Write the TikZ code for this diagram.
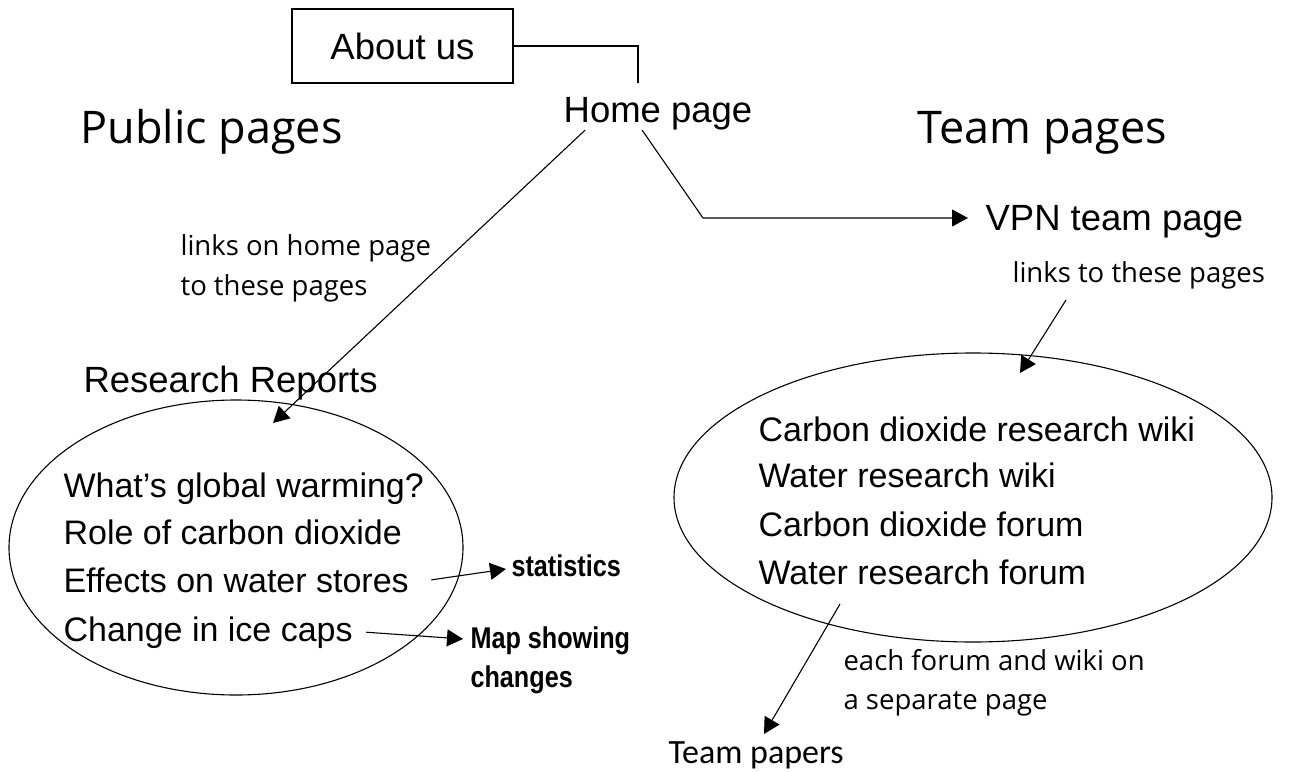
\documentclass[tikz,border=0pt]{standalone}
\usepackage{fontspec}
\setmainfont{Liberation Sans}
\newfontfamily\comicfont{Open Sans}
\newfontfamily\narrowfont{Liberation Sans}[FakeStretch=0.84]
\newfontfamily\calfont{Carlito}
\usetikzlibrary{arrows.meta,shapes.geometric}
\begin{document}
\begin{tikzpicture}[x=1pt,y=-1pt, line width=1.1pt,
  big/.style={font=\fontsize{36.5}{44}\selectfont, inner sep=0pt, anchor=base west},
  item/.style={font=\fontsize{34}{41}\selectfont, inner sep=0pt, anchor=base west},
  titletext/.style={font=\comicfont\fontsize{45}{54}\selectfont, inner sep=0pt, anchor=base west},
  note/.style={font=\comicfont\fontsize{27.5}{40}\selectfont, inner sep=0pt, anchor=base west},
  boldnote/.style={font=\narrowfont\bfseries\fontsize{30}{39}\selectfont, inner sep=0pt, anchor=base west},
  pagebubble/.style={draw, ellipse, inner sep=0pt},
  link/.style={-{Triangle[length=16pt,width=17pt]}}
]
\useasboundingbox (0,0) rectangle (1293,771);

% top
\node[draw, rectangle, minimum width=221pt, minimum height=74pt, inner sep=0pt,
      font=\fontsize{36.5}{44}\selectfont] (about) at (402.5,46) {About us};
\node[big, anchor=base] (home) at (658,122) {Home page};
\coordinate (homein) at (638,83);
\draw (about.east) -| (homein);

\node[titletext] (public) at (80,143) {Public pages};
\node[titletext] (team) at (917,143) {Team pages};

% public side
\node[note] (linksL) at (180,255) {\begin{tabular}[t]{@{}l@{}}links on home page\\to these pages\end{tabular}};
\node[big] (rr) at (83,392) {Research Reports};
\node[pagebubble, minimum width=454pt, minimum height=295pt] (lell) at (236,547.5) {};
\node[item] (whats) at (63,497) {What’s global warming?};
\node[item] (role) at (63,544.5) {Role of carbon dioxide};
\node[item] (effects) at (63,592) {Effects on water stores};
\node[item] (change) at (63,641) {Change in ice caps};
\coordinate (lin) at (273,423);
\draw[link] ([xshift=22pt]home.south west) -- (lin);

\node[boldnote] (stat) at (511,576) {statistics};
\node[boldnote] (map) at (470,648) {\begin{tabular}[t]{@{}l@{}}Map showing\\changes\end{tabular}};
\draw[link] ([xshift=22pt]effects.east) -- ([shift={(-5pt,7pt)}]stat.base west);
\draw[link] ([xshift=13pt]change.east) -- ([shift={(-7pt,9pt)}]map.base west);

% team side
\node[big] (vpn) at (985,230) {VPN team page};
\coordinate (bend) at (703,218);
\draw[link] ([xshift=79pt]home.south west) -- (bend) -- ([shift={(-17pt,12pt)}]vpn.base west);

\node[note] (linksR) at (1012,282) {links to these pages};
\node[pagebubble, minimum width=598pt, minimum height=289pt] (rell) at (973,497.5) {};
\coordinate (rin) at (1020,373);
\draw[link] ([shift={(54pt,-18pt)}]linksR.base west) -- (rin);

\node[item] (cdrw) at (758,441) {Carbon dioxide research wiki};
\node[item] (wrw) at (758,487.5) {Water research wiki};
\node[item] (cdf) at (758,536) {Carbon dioxide forum};
\node[item] (wrf) at (758,584) {Water research forum};

\node[note, font=\comicfont\fontsize{27.5}{39}\selectfont] (sep) at (843,670)
  {\begin{tabular}[t]{@{}l@{}}each forum and wiki on\\a separate page\end{tabular}};
\node[font=\calfont\fontsize{34}{41}\selectfont, inner sep=0pt, anchor=base west] (tp) at (668,763) {Team papers};
\draw[link] ([shift={(82pt,-20pt)}]wrf.base west) -- ([shift={(96pt,29pt)}]tp.base west);
\end{tikzpicture}
\end{document}
